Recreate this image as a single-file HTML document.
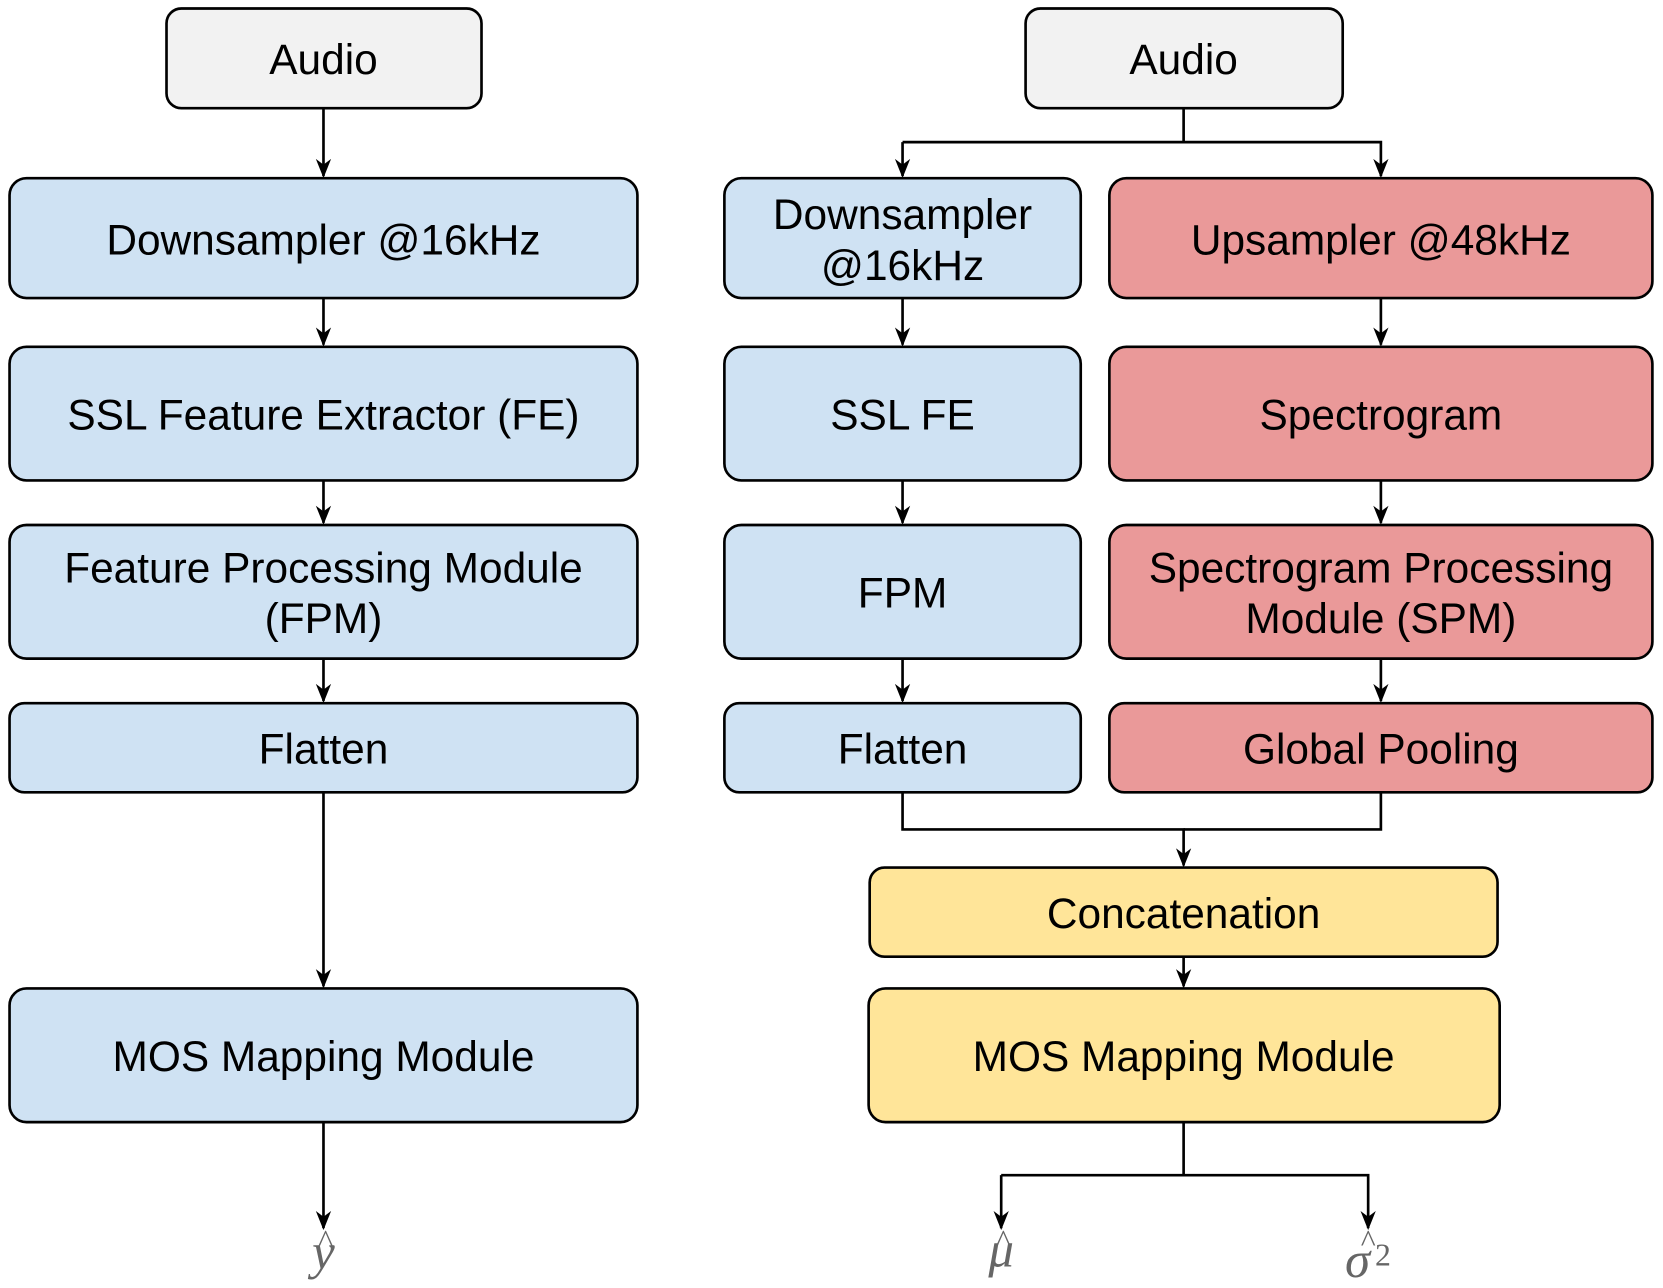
<!DOCTYPE html>
<html><head><style>body{margin:0;background:#fff}svg{display:block}</style></head><body>
<svg width="1663" height="1288" viewBox="0 0 1568 1214.4" xmlns="http://www.w3.org/2000/svg" font-family="'Liberation Sans',Arial,sans-serif" font-size="40">
<defs>
<marker id="b" viewBox="0 0 10 10" refX="9" refY="5" markerWidth="18" markerHeight="18" orient="auto" markerUnits="userSpaceOnUse"><path d="M0,1 L10,5 L0,9 L3,5z" fill="#000"/></marker></defs>
<g stroke="#000" stroke-width="2.5">
<rect x="157" y="8" width="297" height="94" rx="14" fill="#f2f2f2"/>
<rect x="9" y="168" width="592" height="113" rx="16" fill="#cfe2f3"/>
<rect x="9" y="327" width="592" height="126" rx="16" fill="#cfe2f3"/>
<rect x="9" y="495" width="592" height="126" rx="16" fill="#cfe2f3"/>
<rect x="9" y="663" width="592" height="84" rx="14" fill="#cfe2f3"/>
<rect x="9" y="932" width="592" height="126" rx="16" fill="#cfe2f3"/>
<rect x="967" y="8" width="299" height="94" rx="14" fill="#f2f2f2"/>
<rect x="683" y="168" width="336" height="113" rx="16" fill="#cfe2f3"/>
<rect x="683" y="327" width="336" height="126" rx="16" fill="#cfe2f3"/>
<rect x="683" y="495" width="336" height="126" rx="16" fill="#cfe2f3"/>
<rect x="683" y="663" width="336" height="84" rx="14" fill="#cfe2f3"/>
<rect x="1046" y="168" width="512" height="113" rx="16" fill="#ea9999"/>
<rect x="1046" y="327" width="512" height="126" rx="16" fill="#ea9999"/>
<rect x="1046" y="495" width="512" height="126" rx="16" fill="#ea9999"/>
<rect x="1046" y="663" width="512" height="84" rx="14" fill="#ea9999"/>
<rect x="820" y="818" width="592" height="84" rx="14" fill="#ffe599"/>
<rect x="819" y="932" width="595" height="126" rx="16" fill="#ffe599"/>
</g>
<g stroke="#000" stroke-width="2.5" fill="none">
<path d="M1302 747V782H1116"/>
<path d="M1116 134H851"/>
<path d="M1116 1108H944"/>
</g>
<g stroke="#000" stroke-width="2.5" fill="none" marker-end="url(#b)">
<path d="M305 102V166"/><path d="M305 281V325"/><path d="M305 453V493"/><path d="M305 621V661"/><path d="M305 747V930"/><path d="M305 1058V1158"/>
<path d="M1116 102V134H1302V166"/><path d="M851 134V166"/>
<path d="M851 281V325"/><path d="M851 453V493"/><path d="M851 621V661"/>
<path d="M1302 281V325"/><path d="M1302 453V493"/><path d="M1302 621V661"/>
<path d="M851 747V782H1116V816"/>
<path d="M1116 902V930"/>
<path d="M1116 1058V1108H1290V1158"/><path d="M944 1108V1158"/>
</g>
<g text-anchor="middle" fill="#000">
<text x="305" y="70">Audio</text>
<text x="1116" y="70">Audio</text>
<text x="305" y="240">Downsampler @16kHz</text>
<text x="305" y="405">SSL Feature Extractor (FE)</text>
<text x="305" y="549">Feature Processing Module</text>
<text x="305" y="597">(FPM)</text>
<text x="305" y="720">Flatten</text>
<text x="305" y="1010">MOS Mapping Module</text>
<text x="851" y="216">Downsampler</text>
<text x="851" y="264">@16kHz</text>
<text x="851" y="405">SSL FE</text>
<text x="851" y="573">FPM</text>
<text x="851" y="720">Flatten</text>
<text x="1302" y="240">Upsampler @48kHz</text>
<text x="1302" y="405">Spectrogram</text>
<text x="1302" y="549">Spectrogram Processing</text>
<text x="1302" y="597">Module (SPM)</text>
<text x="1302" y="720">Global Pooling</text>
<text x="1116" y="875">Concatenation</text>
<text x="1116" y="1010">MOS Mapping Module</text>
</g>
<g fill="#666" font-family="'Liberation Serif',serif" font-style="italic" font-size="48" text-anchor="middle">
<text x="305" y="1196">y</text><text x="307" y="1180" font-style="normal" font-size="30">^</text>
<text x="944" y="1194">μ</text><text x="946" y="1180" font-style="normal" font-size="30">^</text>
<text x="1280" y="1204">σ</text><text x="1290" y="1180" font-style="normal" font-size="30">^</text>
<text x="1304" y="1193" font-style="normal" font-size="30">2</text>
</g>
</svg>
</body></html>
